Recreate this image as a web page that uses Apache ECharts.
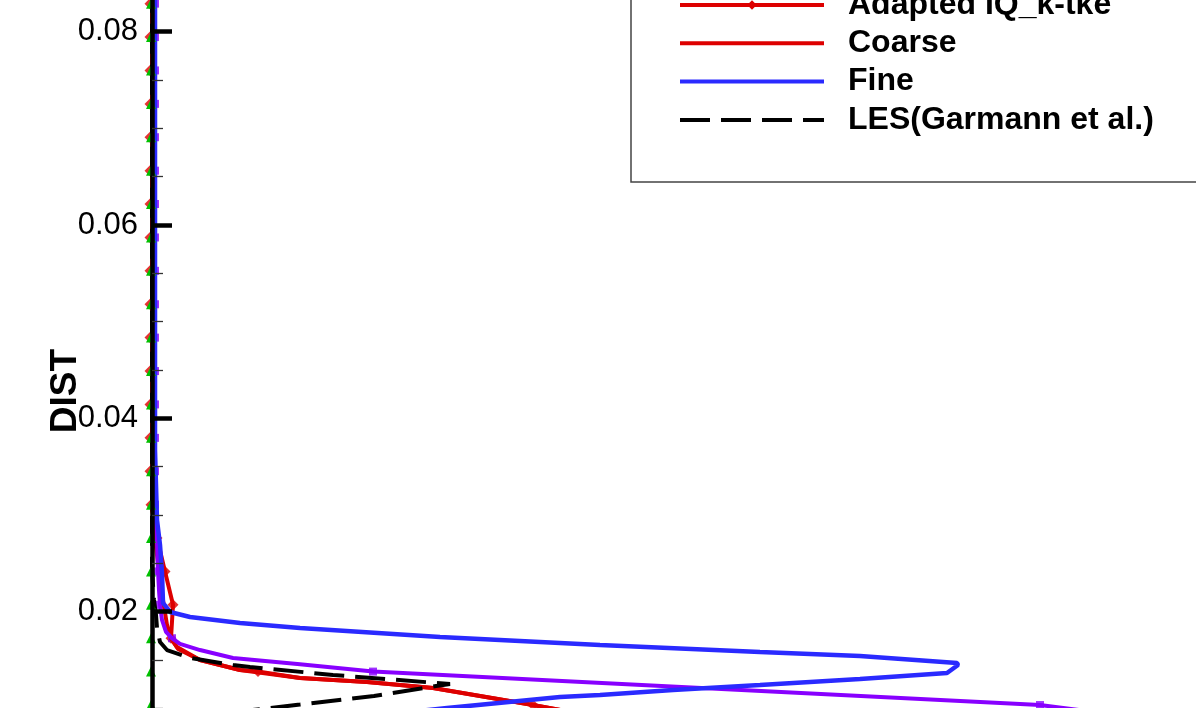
<!DOCTYPE html>
<html>
<head>
<meta charset="utf-8">
<script src="https://cdn.jsdelivr.net/npm/echarts@6.0.0/dist/echarts.min.js"></script>
<style>
html, body { margin: 0; padding: 0; background: #fff; }
#myCharts { width: 1196px; height: 708px; }
</style>
</head>
<body>
<div id="myCharts"></div>
<script>
// DIST levels where the symbols sit (same for every marked curve)
const distMarks = [0.00689, 0.01034, 0.01380, 0.01725, 0.02071, 0.02416, 0.02762, 0.03107,
  0.03453, 0.03798, 0.04144, 0.04489, 0.04835, 0.05180, 0.05526, 0.05871, 0.06217,
  0.06562, 0.06908, 0.07253, 0.07599, 0.07944, 0.08290, 0.08635];

// Adapted IQ_k-tke (red), line points and diamond marks
const adaptedDist = [0.00980, 0.01034, 0.01210, 0.01272, 0.01314, 0.01380, 0.01397, 0.01500,
  0.01634, 0.01725, 0.02071, 0.02416, 0.02762, 0.03107, 0.03453, 0.08635];
const adaptedX = [0.410, 0.381, 0.281, 0.215, 0.148, 0.106, 0.088, 0.048,
  0.025, 0.019, 0.021, 0.013, 0.005, -0.001, -0.002, -0.002];
const adaptedMarkX = [0.600, 0.381, 0.106, 0.019, 0.021, 0.013, 0.005, -0.001,
  -0.002, -0.002, -0.002, -0.002, -0.002, -0.002, -0.002, -0.002,
  -0.002, -0.002, -0.002, -0.002, -0.002, -0.002, -0.002, -0.002];

// green curve (triangles), sits on the wall
const greenX = [-0.001, -0.001, -0.001, -0.001, -0.001, -0.001, -0.001, -0.001,
  -0.001, -0.001, -0.001, -0.001, -0.001, -0.001, -0.001, -0.001,
  -0.001, -0.001, -0.001, -0.001, -0.001, -0.001, -0.001, -0.001];

// purple curve, line points and square marks
const purpleDist = [0.00689, 0.01034, 0.01380, 0.01455, 0.01521, 0.01603, 0.01666, 0.01725, 0.01790,
  0.01914, 0.02071, 0.02224, 0.02416, 0.02555, 0.02762, 0.03107, 0.08635];
const purpleX = [1.150, 0.888, 0.221, 0.148, 0.081, 0.048, 0.028, 0.020, 0.014,
  0.010, 0.008, 0.007, 0.006, 0.0055, 0.005, 0.003, 0.003];
const purpleMarkX = [1.150, 0.888, 0.221, 0.020, 0.008, 0.006, 0.005, 0.003,
  0.003, 0.003, 0.003, 0.003, 0.003, 0.003, 0.003, 0.003,
  0.003, 0.003, 0.003, 0.003, 0.003, 0.003, 0.003, 0.003];

// Coarse (red)
const coarseDist = [0.00980, 0.01034, 0.01210, 0.01272, 0.01314, 0.01397, 0.01500, 0.01614,
  0.01707, 0.01862, 0.02121, 0.02431, 0.02741, 0.03155, 0.08635];
const coarseX = [0.410, 0.381, 0.281, 0.215, 0.148, 0.088, 0.048, 0.026,
  0.020, 0.015, 0.011, 0.007, 0.003, 0.000, 0.000];

// Fine (blue)
const fineDist = [0.00941, 0.01003, 0.01117, 0.01138, 0.01190, 0.01241, 0.01303, 0.01366, 0.01448, 0.01469,
  0.01541, 0.01583, 0.01655, 0.01738, 0.01831, 0.01883, 0.01945, 0.01997, 0.02090,
  0.02400, 0.02690, 0.02948, 0.03672, 0.08635];
const fineX = [0.238, 0.295, 0.408, 0.448, 0.521, 0.608, 0.708, 0.795, 0.806, 0.805,
  0.708, 0.608, 0.448, 0.288, 0.148, 0.088, 0.038, 0.018, 0.011,
  0.010, 0.008, 0.005, 0.003, 0.003];

// LES (Garmann et al.), black dashed
const lesDist = [0.00957, 0.01003, 0.01039, 0.01128, 0.01231, 0.01252, 0.01345, 0.01428, 0.01448,
  0.01521, 0.01603, 0.01686, 0.01831, 0.01966, 0.02121, 0.02431, 0.08635];
const lesX = [0.078, 0.118, 0.148, 0.222, 0.284, 0.298, 0.181, 0.098, 0.081,
  0.038, 0.015, 0.008, 0.005, 0.004, 0.002, 0.000, 0.000];

const legendNames = ['Adapted IQ_k-tke', 'Coarse', 'Fine', 'LES(Garmann et al.)'];

function pairs(xs, ys) {
  return xs.map((x, i) => [x, ys[i]]);
}

const font = 'Liberation Sans, Arial, Helvetica, sans-serif';
const noDot = { color: 'rgba(0,0,0,0)' }; // hides the legend dot of lines without symbols
const chart = echarts.init(document.getElementById('myCharts'));

chart.setOption({
  animation: false,
  backgroundColor: '#fff',
  // plot area runs past the page: DIST 0 sits below, 0.09 above
  grid: { left: 152, width: 1000, top: -65, height: 870, outerBoundsMode: 'none' },
  legend: {
    data: legendNames,
    orient: 'vertical',
    left: 631,
    top: -21,
    padding: [10, 90, 46, 47],
    itemWidth: 144,
    itemHeight: 12,
    itemGap: 6.3,
    backgroundColor: '#fff',
    borderColor: '#444',
    borderWidth: 1.5,
    lineStyle: { width: 4 },
    textStyle: {
      fontFamily: font,
      fontSize: 32,
      fontWeight: 'bold',
      color: '#000',
      lineHeight: 32,
      padding: [0, 0, 0, 19]
    }
  },
  xAxis: {
    type: 'value',
    min: 0,
    max: 1,
    show: false
  },
  yAxis: {
    type: 'value',
    min: 0,
    max: 0.09,
    interval: 0.02,
    z: 10,
    name: 'DIST',
    nameLocation: 'middle',
    nameRotate: 90,
    nameGap: 68,
    nameMoveOverlap: false,
    nameTextStyle: {
      fontFamily: font,
      fontSize: 37,
      fontWeight: 'bold',
      color: '#000',
      padding: [0, 42, 0, 0]
    },
    axisLine: { show: true, lineStyle: { color: '#000', width: 4.5 } },
    axisTick: { show: true, inside: true, length: 20, lineStyle: { color: '#000', width: 4.5 } },
    minorTick: { show: true, splitNumber: 4, length: 11, lineStyle: { color: '#333', width: 1.3 } },
    splitLine: { show: false },
    axisLabel: {
      fontFamily: font,
      fontSize: 31,
      color: '#000',
      margin: 14
    }
  },
  series: [
    {
      name: 'green case',
      type: 'line',
      clip: false,
      data: pairs(greenX, distMarks),
      symbol: 'triangle',
      symbolSize: 10,
      showAllSymbol: true,
      lineStyle: { color: '#00c000', width: 2 },
      itemStyle: { color: '#00c000' }
    },
    {
      name: 'Coarse',
      type: 'line',
      clip: false,
      data: pairs(coarseX, coarseDist),
      symbol: 'none',
      lineStyle: { color: '#dd0000', width: 4 },
      itemStyle: noDot
    },
    {
      name: 'Adapted IQ_k-tke',
      type: 'line',
      clip: false,
      data: pairs(adaptedX, adaptedDist),
      symbol: 'diamond',
      showSymbol: false,
      lineStyle: { color: '#dd0000', width: 4 },
      itemStyle: { color: '#dd0000' }
    },
    {
      name: 'adapted marks',
      type: 'scatter',
      clip: false,
      data: pairs(adaptedMarkX, distMarks),
      symbol: 'diamond',
      symbolSize: 11,
      itemStyle: { color: '#dd0000' }
    },
    {
      name: 'purple case',
      type: 'line',
      clip: false,
      data: pairs(purpleX, purpleDist),
      symbol: 'none',
      lineStyle: { color: '#8800ff', width: 4 },
      itemStyle: noDot
    },
    {
      name: 'Fine',
      type: 'line',
      clip: false,
      data: pairs(fineX, fineDist),
      symbol: 'none',
      lineStyle: { color: '#2a2aff', width: 4.5 },
      itemStyle: noDot
    },
    {
      name: 'purple marks',
      type: 'scatter',
      clip: false,
      data: pairs(purpleMarkX, distMarks),
      symbol: 'rect',
      symbolSize: 8,
      itemStyle: { color: '#8800ff' }
    },
    {
      name: 'LES(Garmann et al.)',
      type: 'line',
      clip: false,
      data: pairs(lesX, lesDist),
      symbol: 'none',
      lineStyle: { color: '#000', width: 4, type: [30, 11] },
      itemStyle: noDot
    }
  ]
});
</script>
</body>
</html>
